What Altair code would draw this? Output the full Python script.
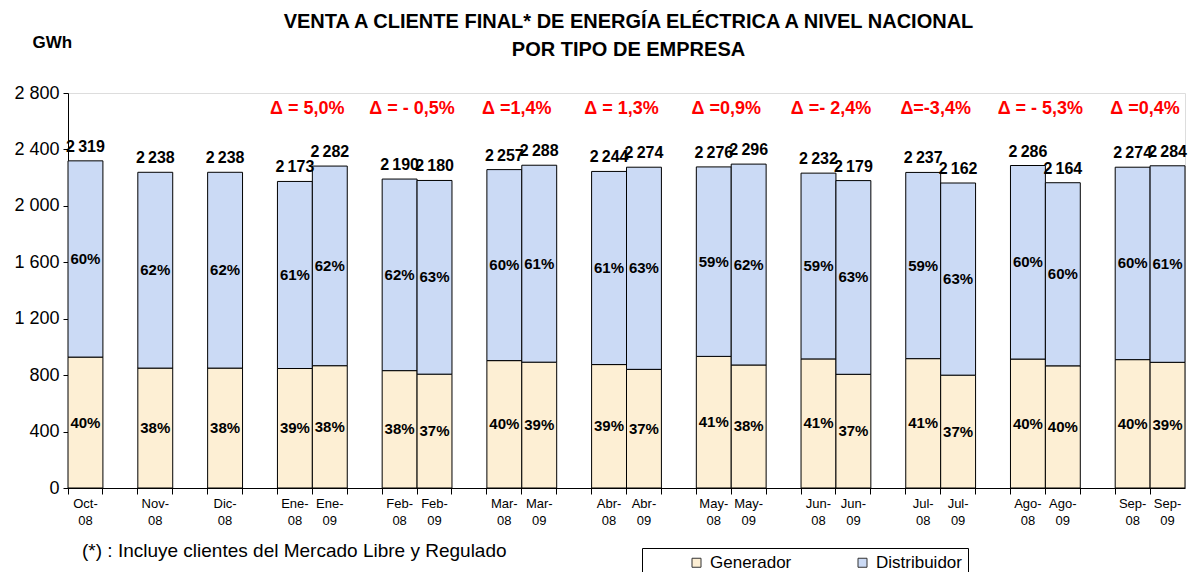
import altair as alt
import pandas as pd

FONT = "Liberation Sans"

bar_labels = ["Oct-08", "Nov-08", "Dic-08", "Ene-08", "Ene-09", "Feb-08", "Feb-09",
              "Mar-08", "Mar-09", "Abr-08", "Abr-09", "May-08", "May-09", "Jun-08",
              "Jun-09", "Jul-08", "Jul-09", "Ago-08", "Ago-09", "Sep-08", "Sep-09"]
totals = [2319, 2238, 2238, 2173, 2282, 2190, 2180, 2257, 2288, 2244, 2274,
          2276, 2296, 2232, 2179, 2237, 2162, 2286, 2164, 2274, 2284]
generador = [928, 850, 850, 847, 867, 832, 807, 903, 892, 875, 841,
             933, 872, 915, 806, 917, 800, 914, 866, 910, 891]
distribuidor = [1391, 1388, 1388, 1326, 1415, 1358, 1373, 1354, 1396, 1369, 1433,
                1343, 1424, 1317, 1373, 1320, 1362, 1372, 1298, 1364, 1393]
gen_pct = ["40%", "38%", "38%", "39%", "38%", "38%", "37%", "40%", "39%", "39%", "37%",
           "41%", "38%", "41%", "37%", "41%", "37%", "40%", "40%", "40%", "39%"]
dist_pct = ["60%", "62%", "62%", "61%", "62%", "62%", "63%", "60%", "61%", "61%", "63%",
            "59%", "62%", "59%", "63%", "59%", "63%", "60%", "60%", "60%", "61%"]
delta_slots = ["Ene-09", "Feb-09", "Mar-09", "Abr-09", "May-09", "Jun-09", "Jul-09", "Ago-09", "Sep-09"]
delta_text = ["Δ = 5,0%", "Δ = - 0,5%", "Δ =1,4%", "Δ = 1,3%", "Δ =0,9%",
              "Δ =- 2,4%", "Δ=-3,4%", "Δ = - 5,3%", "Δ =0,4%"]
series = ["Generador", "Distribuidor"]
colors = ["#FDEFD4", "#CBDAF5"]
y_ticks = [0, 400, 800, 1200, 1600, 2000, 2400, 2800]
title_lines = ["VENTA A CLIENTE FINAL* DE ENERGÍA ELÉCTRICA A NIVEL NACIONAL",
               "POR TIPO DE EMPRESA"]
footnote = "(*) : Incluye clientes del Mercado Libre y Regulado"

# slot order: an empty slot between month groups
slots = []
prev = None
for lab in bar_labels:
    m = lab.split("-")[0]
    if prev is not None and m != prev:
        slots.append(f"_gap{len(slots)}")
    slots.append(lab)
    prev = m

rows = []
for i, lab in enumerate(bar_labels):
    rows.append({"slot": lab, "serie": series[0], "value": generador[i], "pct": gen_pct[i], "ord": 0})
    rows.append({"slot": lab, "serie": series[1], "value": distribuidor[i], "pct": dist_pct[i], "ord": 1})
df = pd.DataFrame(rows)

df_tot = pd.DataFrame({"slot": bar_labels, "total": totals,
                       "label": [f"{t:,}".replace(",", "\u2009") for t in totals]})
df_delta = pd.DataFrame({"slot": delta_slots, "txt": delta_text})
df_note = pd.DataFrame({"t": [footnote]})
df_t1 = pd.DataFrame({"t": [title_lines[0]]})
df_t2 = pd.DataFrame({"t": [title_lines[1]]})

W, H = 1117, 395

xscale = alt.Scale(domain=slots, paddingInner=0, paddingOuter=0)
yscale = alt.Scale(domain=[0, 2800], nice=False)

xaxis = alt.Axis(
    title=None, bandPosition=0, labelAngle=0,
    labelExpr="indexof(datum.value, '_') === 0 ? '' : [split(datum.value, '-')[0] + '-', split(datum.value, '-')[1]]",
    labelFont=FONT, labelFontSize=13, labelLineHeight=17, labelPadding=3,
    labelColor="black", tickColor="black", domainColor="black", tickSize=6,
    labelOverlap=False, grid=False,
)
yaxis = alt.Axis(
    values=y_ticks, labelExpr="replace(format(datum.value, ','), ',', ' ')",
    labelFont=FONT, labelFontSize=18, labelColor="black", labelPadding=4,
    tickColor="black", domainColor="black", tickSize=5, grid=False,
    title="GWh", titleAngle=0, titleX=-36, titleY=-51, titleAlign="left",
    titleBaseline="middle", titleFont=FONT, titleFontSize=17, titleFontWeight="bold",
    titleColor="black",
)

bars = alt.Chart(df).mark_bar(stroke="black", strokeWidth=1).encode(
    x=alt.X("slot:N", scale=xscale, axis=xaxis),
    y=alt.Y("value:Q", stack="zero", scale=yscale, axis=yaxis),
    color=alt.Color("serie:N", scale=alt.Scale(domain=series, range=colors),
                    legend=alt.Legend(
                        orient="none", legendX=574, legendY=455, direction="horizontal",
                        title="\u00a0", titleOrient="left", titlePadding=40,
                        padding=6, strokeColor="black", fillColor="white",
                        labelFont=FONT, labelFontSize=17, labelColor="black", labelOffset=5,
                        symbolType="square", symbolSize=81, symbolStrokeColor="#333",
                        symbolStrokeWidth=1, columnPadding=62,
                    )),
    order=alt.Order("ord:Q"),
)

pct = alt.Chart(df).transform_stack(
    stack="value", groupby=["slot"], as_=["v0", "v1"], sort=[alt.SortField("ord")]
).transform_calculate(mid="(datum.v0 + datum.v1) / 2").mark_text(
    font=FONT, fontSize=15, fontWeight="bold", color="black"
).encode(
    x=alt.X("slot:N", scale=xscale, axis=xaxis),
    y=alt.Y("mid:Q", scale=yscale, axis=yaxis),
    text="pct:N",
)

tot = alt.Chart(df_tot).mark_text(
    font=FONT, fontSize=16, fontWeight="bold", color="black", baseline="bottom", dy=-6
).encode(
    x=alt.X("slot:N", scale=xscale, axis=xaxis),
    y=alt.Y("total:Q", scale=yscale, axis=yaxis),
    text="label:N",
)

delta = alt.Chart(df_delta).mark_text(
    font=FONT, fontSize=18, fontWeight="bold", color="#FF0000", baseline="middle", dx=-5
).encode(
    x=alt.X("slot:N", scale=xscale, axis=xaxis, bandPosition=0),
    y=alt.value(16),
    text="txt:N",
)

note = alt.Chart(df_note).mark_text(
    font=FONT, fontSize=19, color="black", align="left", baseline="middle"
).encode(x=alt.value(14), y=alt.value(458), text="t:N")

title_style = dict(font=FONT, fontSize=20, fontWeight="bold", color="black",
                   align="center", baseline="middle")
ttl1 = alt.Chart(df_t1).mark_text(**title_style).encode(
    x=alt.value(W / 2 + 2), y=alt.value(-71), text="t:N")
ttl2 = alt.Chart(df_t2).mark_text(**title_style).encode(
    x=alt.value(W / 2 + 2), y=alt.value(-43), text="t:N")

chart = alt.layer(bars, pct, tot, delta, note, ttl1, ttl2).properties(
    width=W, height=H,
    autosize=alt.AutoSizeParams(type="none"),
    padding={"left": 60, "right": 7, "top": 85, "bottom": 84},
).configure_view(strokeWidth=0).configure(background="white")

chart.save("out.html", embed_options={"renderer": "svg", "actions": False})
